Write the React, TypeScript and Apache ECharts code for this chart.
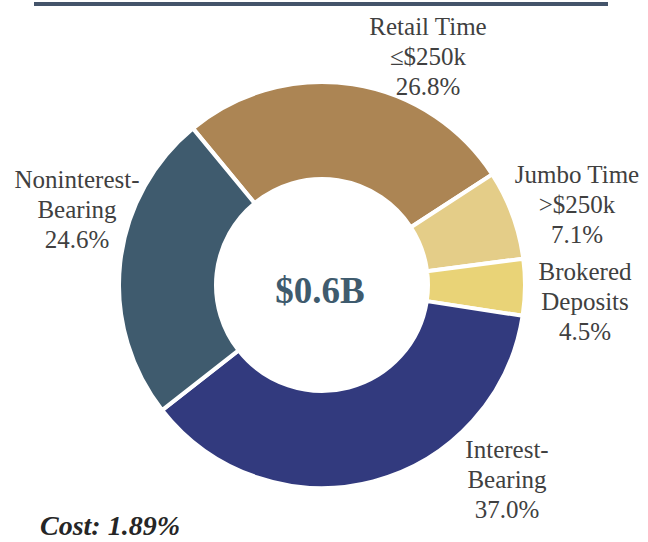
import React, { useEffect, useRef } from "react";
import * as echarts from "echarts";

const categories = [
  "Retail Time\n≤$250k",
  "Jumbo Time\n>$250k",
  "Brokered\nDeposits",
  "Interest-\nBearing",
  "Noninterest-\nBearing",
];
const shares = [26.8, 7.1, 4.5, 37.0, 24.6];
const colors = ["#AC8554", "#E4CD88", "#E9D377", "#323A7E", "#3F5B6E"];
const labelPositions = [
  [428, 56],
  [577, 204],
  [585, 301],
  [507, 479],
  [77, 209],
];
const centerText = "$0.6B";
const costText = "Cost: 1.89%";

const FONT = "'Liberation Serif', 'DejaVu Serif', serif";

export default function App() {
  const ref = useRef<HTMLDivElement>(null);
  useEffect(() => {
    if (!ref.current) return;
    const chart = echarts.init(ref.current, undefined, { renderer: "svg" });
    chart.setOption({
      animation: false,
      backgroundColor: "#ffffff",
      graphic: [
        {
          type: "rect",
          shape: { x: 34, y: 2, width: 574, height: 4 },
          style: { fill: "#44546A" },
        },
        {
          type: "text",
          x: 320,
          y: 290,
          style: {
            text: centerText,
            fill: "#3F5B6E",
            font: `bold 37px ${FONT}`,
            align: "center",
            verticalAlign: "middle",
          },
        },
        {
          type: "text",
          x: 40,
          y: 525,
          style: {
            text: costText,
            fill: "#262626",
            font: `italic bold 28px ${FONT}`,
            align: "left",
            verticalAlign: "middle",
          },
        },
      ],
      series: [
        {
          type: "pie",
          center: [322, 285],
          radius: [106, 203],
          startAngle: 129.5,
          clockwise: true,
          avoidLabelOverlap: false,
          itemStyle: { borderColor: "#ffffff", borderWidth: 4 },
          label: {
            show: true,
            position: "outside",
            fontFamily: FONT,
            fontSize: 25,
            lineHeight: 30,
            color: "#404040",
            align: "center",
            formatter: (p: any) => `${p.name}\n${Number(p.value).toFixed(1)}%`,
          },
          labelLine: { show: false },
          labelLayout: (params: any) => {
            const pos = labelPositions[params.dataIndex];
            return {
              x: pos[0],
              y: pos[1],
              align: "center",
              verticalAlign: "middle",
            };
          },
          emphasis: { disabled: true },
          data: categories.map((name, i) => ({
            name,
            value: shares[i],
            itemStyle: { color: colors[i] },
          })),
        },
      ],
    });
    return () => chart.dispose();
  }, []);
  return (
    <div
      ref={ref}
      style={{ position: "fixed", left: 0, top: 0, width: 648, height: 542 }}
    />
  );
}
